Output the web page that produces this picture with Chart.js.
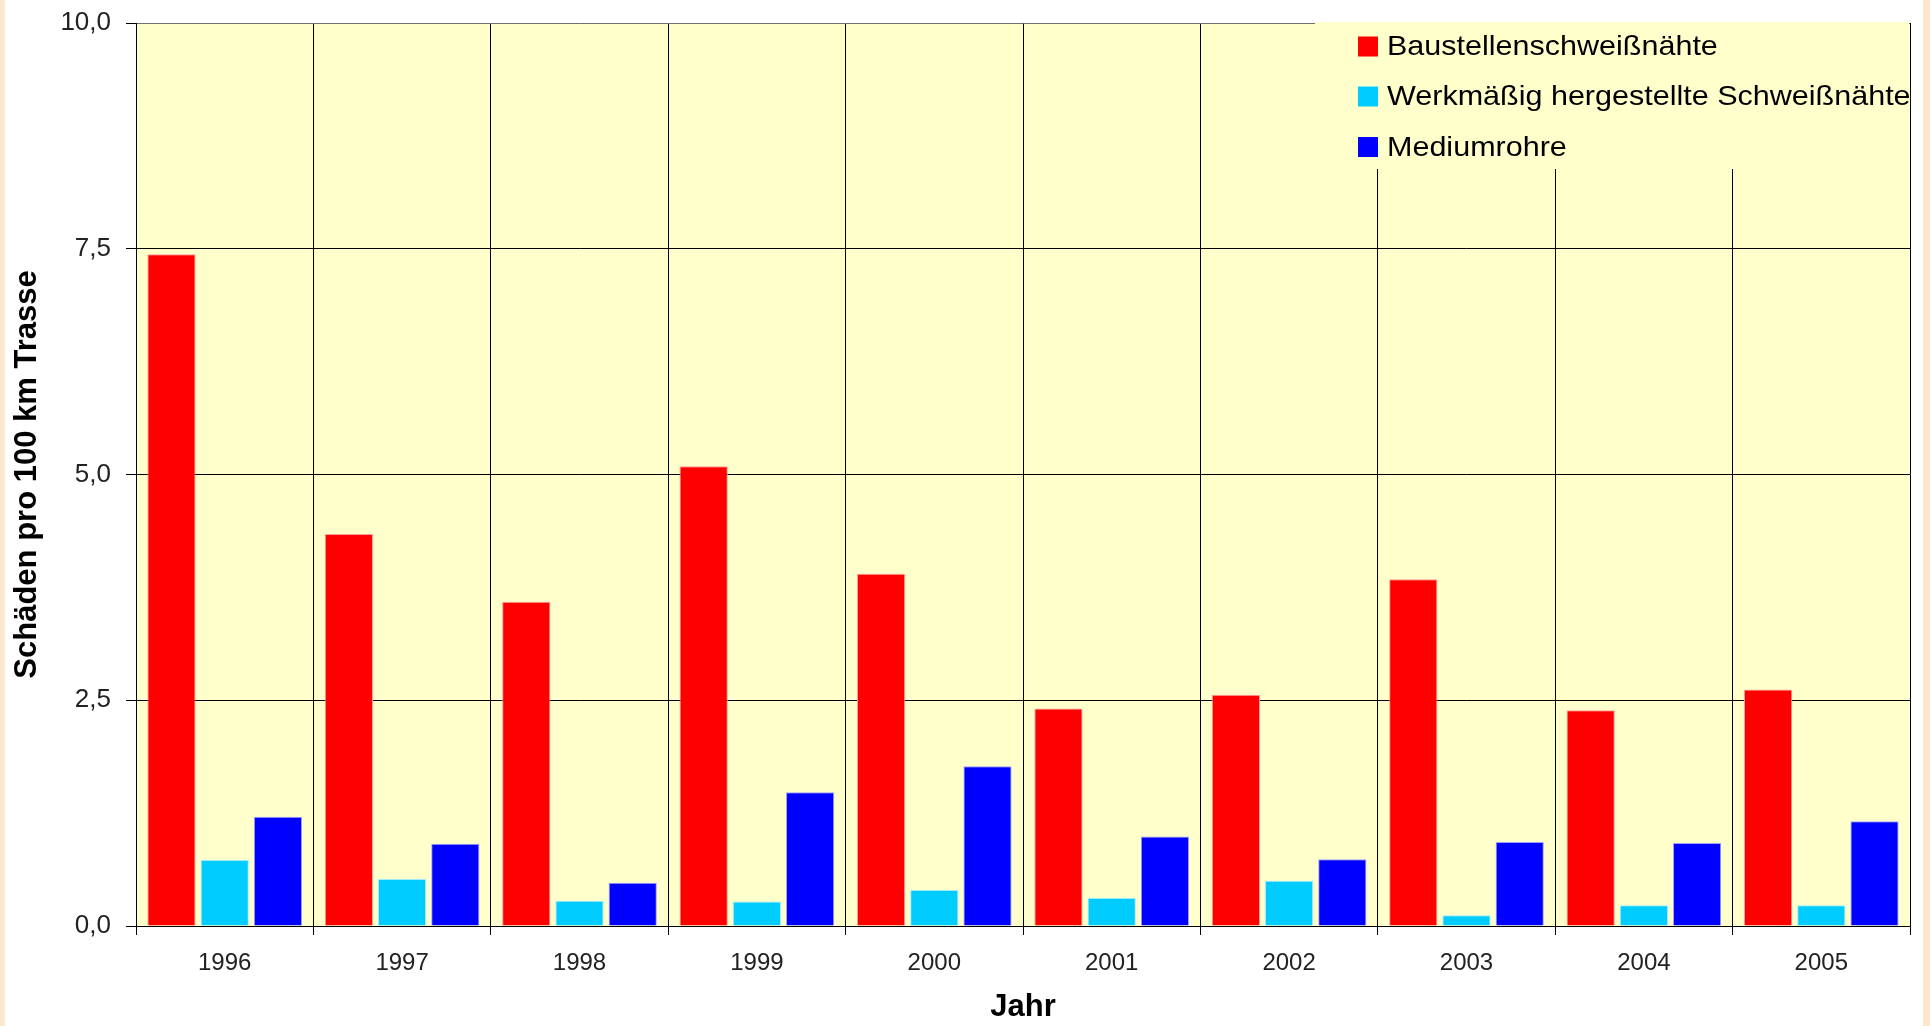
<!DOCTYPE html>
<html>
<head>
<meta charset="utf-8">
<script src="https://cdn.jsdelivr.net/npm/chart.js@4/dist/chart.umd.min.js"></script>
<style>
  html, body { margin: 0; padding: 0; }
  body {
    width: 1930px; height: 1026px; overflow: hidden;
    background: linear-gradient(to right, #fde6cc 0px, #fdebd6 5px, #ffffff 5px, #ffffff 1923px, #fde6cc 1923px, #fde6cc 1930px);
  }
  canvas { display: block; }
</style>
</head>
<body>
<canvas id="c" width="1930" height="1026"></canvas>
<script>
// ---- Data ----
const categories = ['1996', '1997', '1998', '1999', '2000', '2001', '2002', '2003', '2004', '2005'];
const seriesNames = ['Baustellenschweißnähte', 'Werkmäßig hergestellte Schweißnähte', 'Mediumrohre'];
const baustellen = [7.44, 4.34, 3.59, 5.09, 3.90, 2.41, 2.56, 3.84, 2.39, 2.62];
const werkmaessig = [0.73, 0.52, 0.28, 0.27, 0.40, 0.31, 0.50, 0.12, 0.23, 0.23];
const mediumrohre = [1.21, 0.91, 0.48, 1.48, 1.77, 0.99, 0.74, 0.93, 0.92, 1.16];
const yTickLabels = ['0,0', '2,5', '5,0', '7,5', '10,0'];
const yTitle = 'Schäden pro 100 km Trasse';
const xTitle = 'Jahr';

const FONT = "'Liberation Sans', Arial, sans-serif";

const plotBg = {
  id: 'plotBg',
  beforeDraw(chart) {
    const {ctx, chartArea: a} = chart;
    ctx.save();
    ctx.fillStyle = '#ffffcc';
    ctx.fillRect(a.left, a.top, a.right - a.left, a.bottom - a.top);
    ctx.restore();
  }
};

const boxLegend = {
  id: 'boxLegend',
  afterDraw(chart) {
    const {ctx, chartArea: a} = chart;
    const x0 = 1315, y0 = a.top - 1, x1 = a.right - 1, y1 = 169;
    ctx.save();
    ctx.fillStyle = '#ffffcc';
    ctx.fillRect(x0, y0, x1 - x0, y1 - y0);
    const rows = [46.5, 96.5, 147];
    const sx = 1.09;
    chart.data.datasets.forEach((ds, i) => {
      ctx.fillStyle = ds.backgroundColor;
      ctx.fillRect(1358, rows[i] - 10, 20, 20);
      ctx.save();
      ctx.translate(1387, rows[i] + 1);
      ctx.scale(sx, 1);
      ctx.font = "28px " + FONT;
      ctx.textBaseline = 'middle';
      ctx.textAlign = 'left';
      ctx.fillStyle = '#000000';
      ctx.fillText(ds.label, 0, 0);
      ctx.restore();
    });
    ctx.restore();
  }
};

new Chart(document.getElementById('c'), {
  type: 'bar',
  data: {
    labels: categories,
    datasets: [
      { label: seriesNames[0], data: baustellen, backgroundColor: '#ff0000', borderColor: '#ff9c9c', borderWidth: 1 },
      { label: seriesNames[1], data: werkmaessig, backgroundColor: '#00ccff', borderColor: '#a0ecff', borderWidth: 1 },
      { label: seriesNames[2], data: mediumrohre, backgroundColor: '#0000ff', borderColor: '#a0a0ff', borderWidth: 1 }
    ]
  },
  options: {
    responsive: false,
    animation: false,
    devicePixelRatio: 1,
    categoryPercentage: 0.9,
    barPercentage: 0.906,
    layout: { padding: { top: 23, right: 20, left: 0, bottom: 0 } },
    plugins: {
      legend: { display: false },
      tooltip: { enabled: false }
    },
    scales: {
      x: {
        afterFit(scale) { scale.height = 100; scale.paddingLeft = 0; scale.paddingRight = 0; },
        grid: {
          color: (c) => (c.index === categories.length ? '#909090' : '#000000'),
          lineWidth: 1,
          tickLength: 9,
          tickColor: '#000000',
          offset: true
        },
        border: { color: '#000000', width: 1 },
        ticks: {
          color: '#222222',
          font: { family: FONT, size: 24 },
          padding: 14
        },
        title: {
          display: true,
          text: xTitle,
          color: '#000000',
          font: { family: FONT, size: 31, weight: 'bold', lineHeight: 1.2 },
          padding: { top: 0, bottom: 0 }
        }
      },
      y: {
        min: 0,
        max: 10,
        afterFit(scale) { scale.width = 136; scale.paddingTop = 0; scale.paddingBottom = 0; },
        afterBuildTicks(scale) {
          scale.ticks = yTickLabels.map((_, i) => ({ value: i * 2.5 }));
        },
        grid: {
          color: (c) => (c.tick && c.tick.value === 10 ? '#707070' : '#000000'),
          lineWidth: 1,
          tickLength: 10,
          tickColor: '#000000'
        },
        border: { color: '#000000', width: 1 },
        ticks: {
          color: '#222222',
          font: { family: FONT, size: 26 },
          padding: 15,
          callback: (v, i) => yTickLabels[i]
        },
        title: {
          display: true,
          text: yTitle,
          color: '#000000',
          font: { family: FONT, size: 31, weight: 'bold', lineHeight: 1.2 },
          padding: { top: 9, bottom: 0 }
        }
      }
    }
  },
  plugins: [plotBg, boxLegend]
});
</script>
</body>
</html>
